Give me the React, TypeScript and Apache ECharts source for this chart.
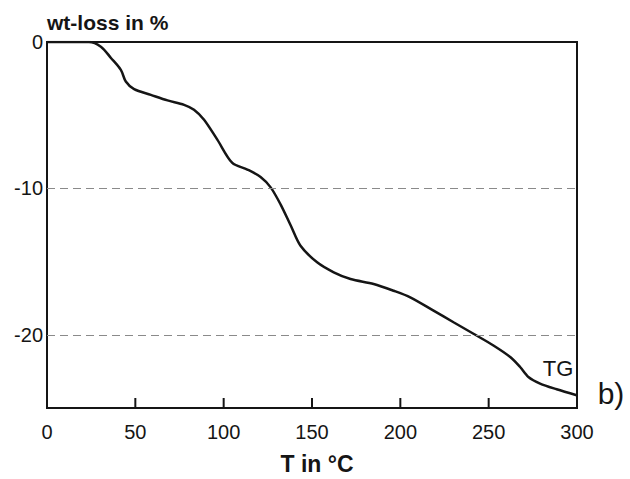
import React, { useEffect, useRef } from "react";
import * as echarts from "echarts";

const temperature = [0, 23.7, 30.5, 36.2, 41.8, 44.6, 49.3, 58.8, 68.2, 77.6, 83.2, 88.9, 96.4, 104.9, 113.4, 120.9, 126.6, 132.2, 137.9, 143.5, 152.9, 162.3, 171.8, 184.9, 196.2, 205.6, 218.8, 230.1, 241.4, 252.7, 262.2, 267.8, 272.5, 279.1, 288.5, 299.8];
const wtLoss = [0, 0, -0.32, -1.09, -1.9, -2.7, -3.22, -3.61, -3.99, -4.29, -4.63, -5.31, -6.67, -8.26, -8.71, -9.22, -9.93, -11.09, -12.52, -13.92, -15.05, -15.73, -16.19, -16.53, -16.99, -17.44, -18.35, -19.14, -19.93, -20.73, -21.52, -22.2, -22.88, -23.33, -23.72, -24.13];
const dashedLevels = [-10, -20];
const xTicks = [0, 50, 100, 150, 200, 250, 300];
const yMin = -25;

const FONT = "'Liberation Sans', Arial, sans-serif";

export default function App() {
  const ref = useRef<HTMLDivElement>(null);
  useEffect(() => {
    if (!ref.current) return;
    const chart = echarts.init(ref.current, null, { renderer: "svg" });
    chart.setOption({
      animation: false,
      backgroundColor: "#ffffff",
      grid: {
        left: 47,
        top: 42,
        right: 53,
        bottom: 71,
        show: true,
        borderColor: "#151515",
        borderWidth: 2,
        backgroundColor: "transparent",
      },
      xAxis: {
        type: "value",
        position: "bottom",
        min: xTicks[0],
        max: xTicks[xTicks.length - 1],
        interval: 50,
        axisLine: { show: true, onZero: false, lineStyle: { color: "#151515", width: 2 } },
        axisTick: { show: false },
        axisLabel: { color: "#151515", fontSize: 20, fontFamily: FONT, margin: 14 },
        splitLine: { show: false },
      },
      yAxis: {
        type: "value",
        min: yMin,
        max: 0,
        interval: 5,
        axisLine: { show: false, onZero: false },
        axisTick: { show: false },
        axisLabel: {
          color: "#151515",
          fontSize: 20,
          fontFamily: FONT,
          margin: 4,
          formatter: (v: number) => (v % 10 === 0 ? String(v) : ""),
        },
        splitLine: { show: false },
      },
      series: [
        {
          type: "line",
          data: temperature.map((t, i) => [t, wtLoss[i]]),
          smooth: 0.3,
          showSymbol: false,
          lineStyle: { color: "#151515", width: 2.5 },
          markLine: {
            silent: true,
            symbol: "none",
            label: { show: false },
            lineStyle: { color: "#8a8a8a", type: [8, 5], width: 1 },
            data: dashedLevels.map((v) => ({ yAxis: v })),
          },
          z: 3,
        },
        {
          type: "custom",
          silent: true,
          clip: false,
          data: xTicks.slice(1, -1).map((t) => [t, yMin]),
          renderItem: (params: any, api: any) => {
            const p = api.coord([api.value(0), api.value(1)]);
            return {
              type: "rect",
              shape: { x: p[0] - 1, y: p[1] - 10, width: 2, height: 10 },
              style: { fill: "#151515" },
            };
          },
          z: 10,
        },
      ],
      graphic: [
        {
          type: "text",
          x: 47,
          y: 22,
          style: { text: "wt-loss in %", font: `bold 21px ${FONT}`, fill: "#151515", align: "left", verticalAlign: "middle" },
        },
        {
          type: "text",
          x: 317,
          y: 464,
          style: { text: "T in °C", font: `bold 23px ${FONT}`, fill: "#151515", align: "center", verticalAlign: "middle" },
        },
        {
          type: "text",
          x: 558,
          y: 368,
          style: { text: "TG", font: `22px ${FONT}`, fill: "#151515", align: "center", verticalAlign: "middle" },
        },
        {
          type: "text",
          x: 611,
          y: 393,
          style: { text: "b)", font: `30px ${FONT}`, fill: "#151515", align: "center", verticalAlign: "middle" },
        },
      ],
    });
    return () => chart.dispose();
  }, []);
  return <div ref={ref} style={{ width: 630, height: 479, position: "absolute", left: 0, top: 0 }} />;
}
